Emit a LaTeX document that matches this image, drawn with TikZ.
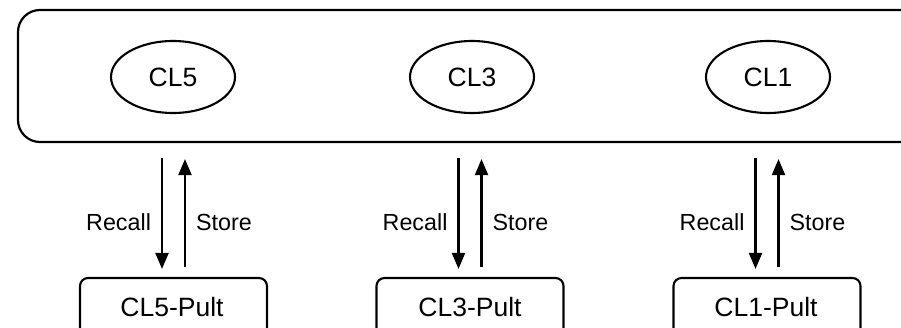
\documentclass[tikz,border=0pt]{standalone}
\usepackage{fontspec}
\setmainfont{Liberation Sans}
\usetikzlibrary{arrows.meta,shapes.geometric}
\begin{document}
\begin{tikzpicture}[x=1pt,y=-1pt,
  every node/.style={font=\fontsize{26.5}{30}\selectfont},
  bigbox/.style={draw,line width=2.2pt,rounded corners=22pt,minimum width=912pt,minimum height=132pt,inner sep=0pt},
  cl/.style={draw,ellipse,line width=2.1pt,minimum width=124pt,minimum height=72pt,inner sep=0pt},
  pult/.style={draw,line width=2.1pt,rounded corners=8pt,minimum width=187pt,minimum height=60pt,inner sep=0pt},
  arr/.style={line width=2.1pt,-{Triangle[length=16pt,width=13pt]}},
  lbl/.style={inner sep=0pt,font=\fontsize{23.3}{28}\selectfont}
]
\useasboundingbox (0,0) rectangle (901,328);
\clip (0,0) rectangle (901,328);
\node[bigbox] (big) at (474,76) {};
\node[cl] (c5) at (173,77) {CL5};
\node[cl] (c3) at (472,77) {CL3};
\node[cl] (c1) at (768,77) {CL1};
\node[pult] (p5) at (173.5,308) {};
\node[pult] (p3) at (470,308) {};
\node[pult] (p1) at (767,308) {};
\node at (172,307) {CL5-Pult};
\node at (470,307) {CL3-Pult};
\node at (766,307) {CL1-Pult};
\foreach \p in {p5,p3,p1}{
  \draw[arr,shorten <=15pt,shorten >=8pt] ([xshift=-11.5pt]\p.north |- big.south) -- ([xshift=-11.5pt]\p.north)
    node[lbl,pos=0.59,left=10pt] {Recall};
  \draw[arr,shorten <=10pt,shorten >=16pt] ([xshift=11.5pt]\p.north) -- ([xshift=11.5pt]\p.north |- big.south)
    node[lbl,pos=0.41,right=10pt] {Store};
}
\end{tikzpicture}
\end{document}
